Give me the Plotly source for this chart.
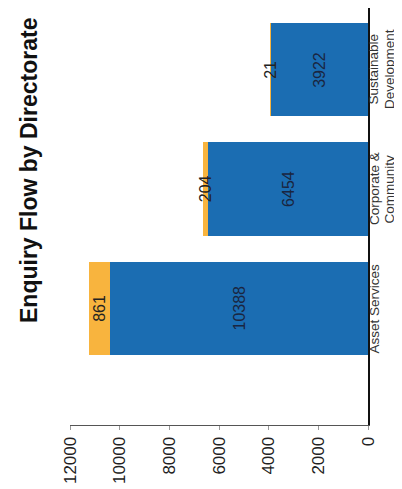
import plotly.graph_objects as go

categories = ["Asset Services", "Corporate &<br>Community", "Sustainable<br>Development"]
main_values = [10388, 6454, 3922]
extra_values = [861, 204, 21]
tick_vals = [0, 2000, 4000, 6000, 8000, 10000, 12000]
tick_text = ["0", "2000", "4000", "6000", "8000", "10000", "12000"]

BLUE = "#1b6db2"
ORANGE = "#f8b43e"
FONT = "Liberation Sans, Arial, sans-serif"

fig = go.Figure()
fig.add_trace(go.Bar(y=categories, x=main_values, orientation="h",
                     marker=dict(color=BLUE, line=dict(width=0)), hoverinfo="skip"))
fig.add_trace(go.Bar(y=categories, x=extra_values, orientation="h",
                     marker=dict(color=ORANGE, line=dict(width=0)), hoverinfo="skip"))

plot_w = 402 - 62 - 42
plot_h = 489 - 0 - 72

annotations = []
for c, m, e in zip(categories, main_values, extra_values):
    annotations.append(dict(x=m / 2, y=c, xref="x", yref="y", text=str(m), showarrow=False,
                            textangle=-90, font=dict(family=FONT, size=16, color="#1a2540")))
    annotations.append(dict(x=m + e / 2, y=c, xref="x", yref="y", text=str(e), showarrow=False,
                            textangle=-90, font=dict(family=FONT, size=16, color="#222222")))
    # category labels, one annotation per line, placed right of the axis
    for i, line in enumerate(c.split("<br>")):
        px = 366 + i * 15.5
        annotations.append(dict(x=(px - 62) / plot_w, y=c, xref="paper", yref="y",
                                xanchor="center", yanchor="middle", text=line, showarrow=False,
                                textangle=-90, font=dict(family=FONT, size=13.5, color="#333333")))

annotations.append(dict(x=(21 - 62) / plot_w, y=(417 - 163) / plot_h, xref="paper", yref="paper",
                        xanchor="center", yanchor="middle",
                        text="<b>Enquiry Flow by Directorate</b>",
                        showarrow=False, textangle=-90, font=dict(family=FONT, size=23, color="#111111")))

fig.update_layout(
    width=402, height=489,
    margin=dict(l=62, r=42, t=0, b=72),
    paper_bgcolor="white", plot_bgcolor="white",
    barmode="stack", bargap=0.22, showlegend=False,
    font=dict(family=FONT, color="#222222"),
    xaxis=dict(range=[12000, 0], tickvals=tick_vals, ticktext=tick_text, tickangle=-90,
               showgrid=False, zeroline=False, showline=True, linecolor="#555555", linewidth=1,
               ticks="outside", ticklen=4, tickcolor="#999999",
               tickfont=dict(family=FONT, size=17, color="#222222")),
    yaxis=dict(type="category", categoryarray=categories, range=[-0.975, 2.515], side="right",
               showticklabels=False, showgrid=False, zeroline=False, showline=True,
               linecolor="#111111", linewidth=2, ticks=""),
    annotations=annotations,
)

fig.write_html("out.html")
